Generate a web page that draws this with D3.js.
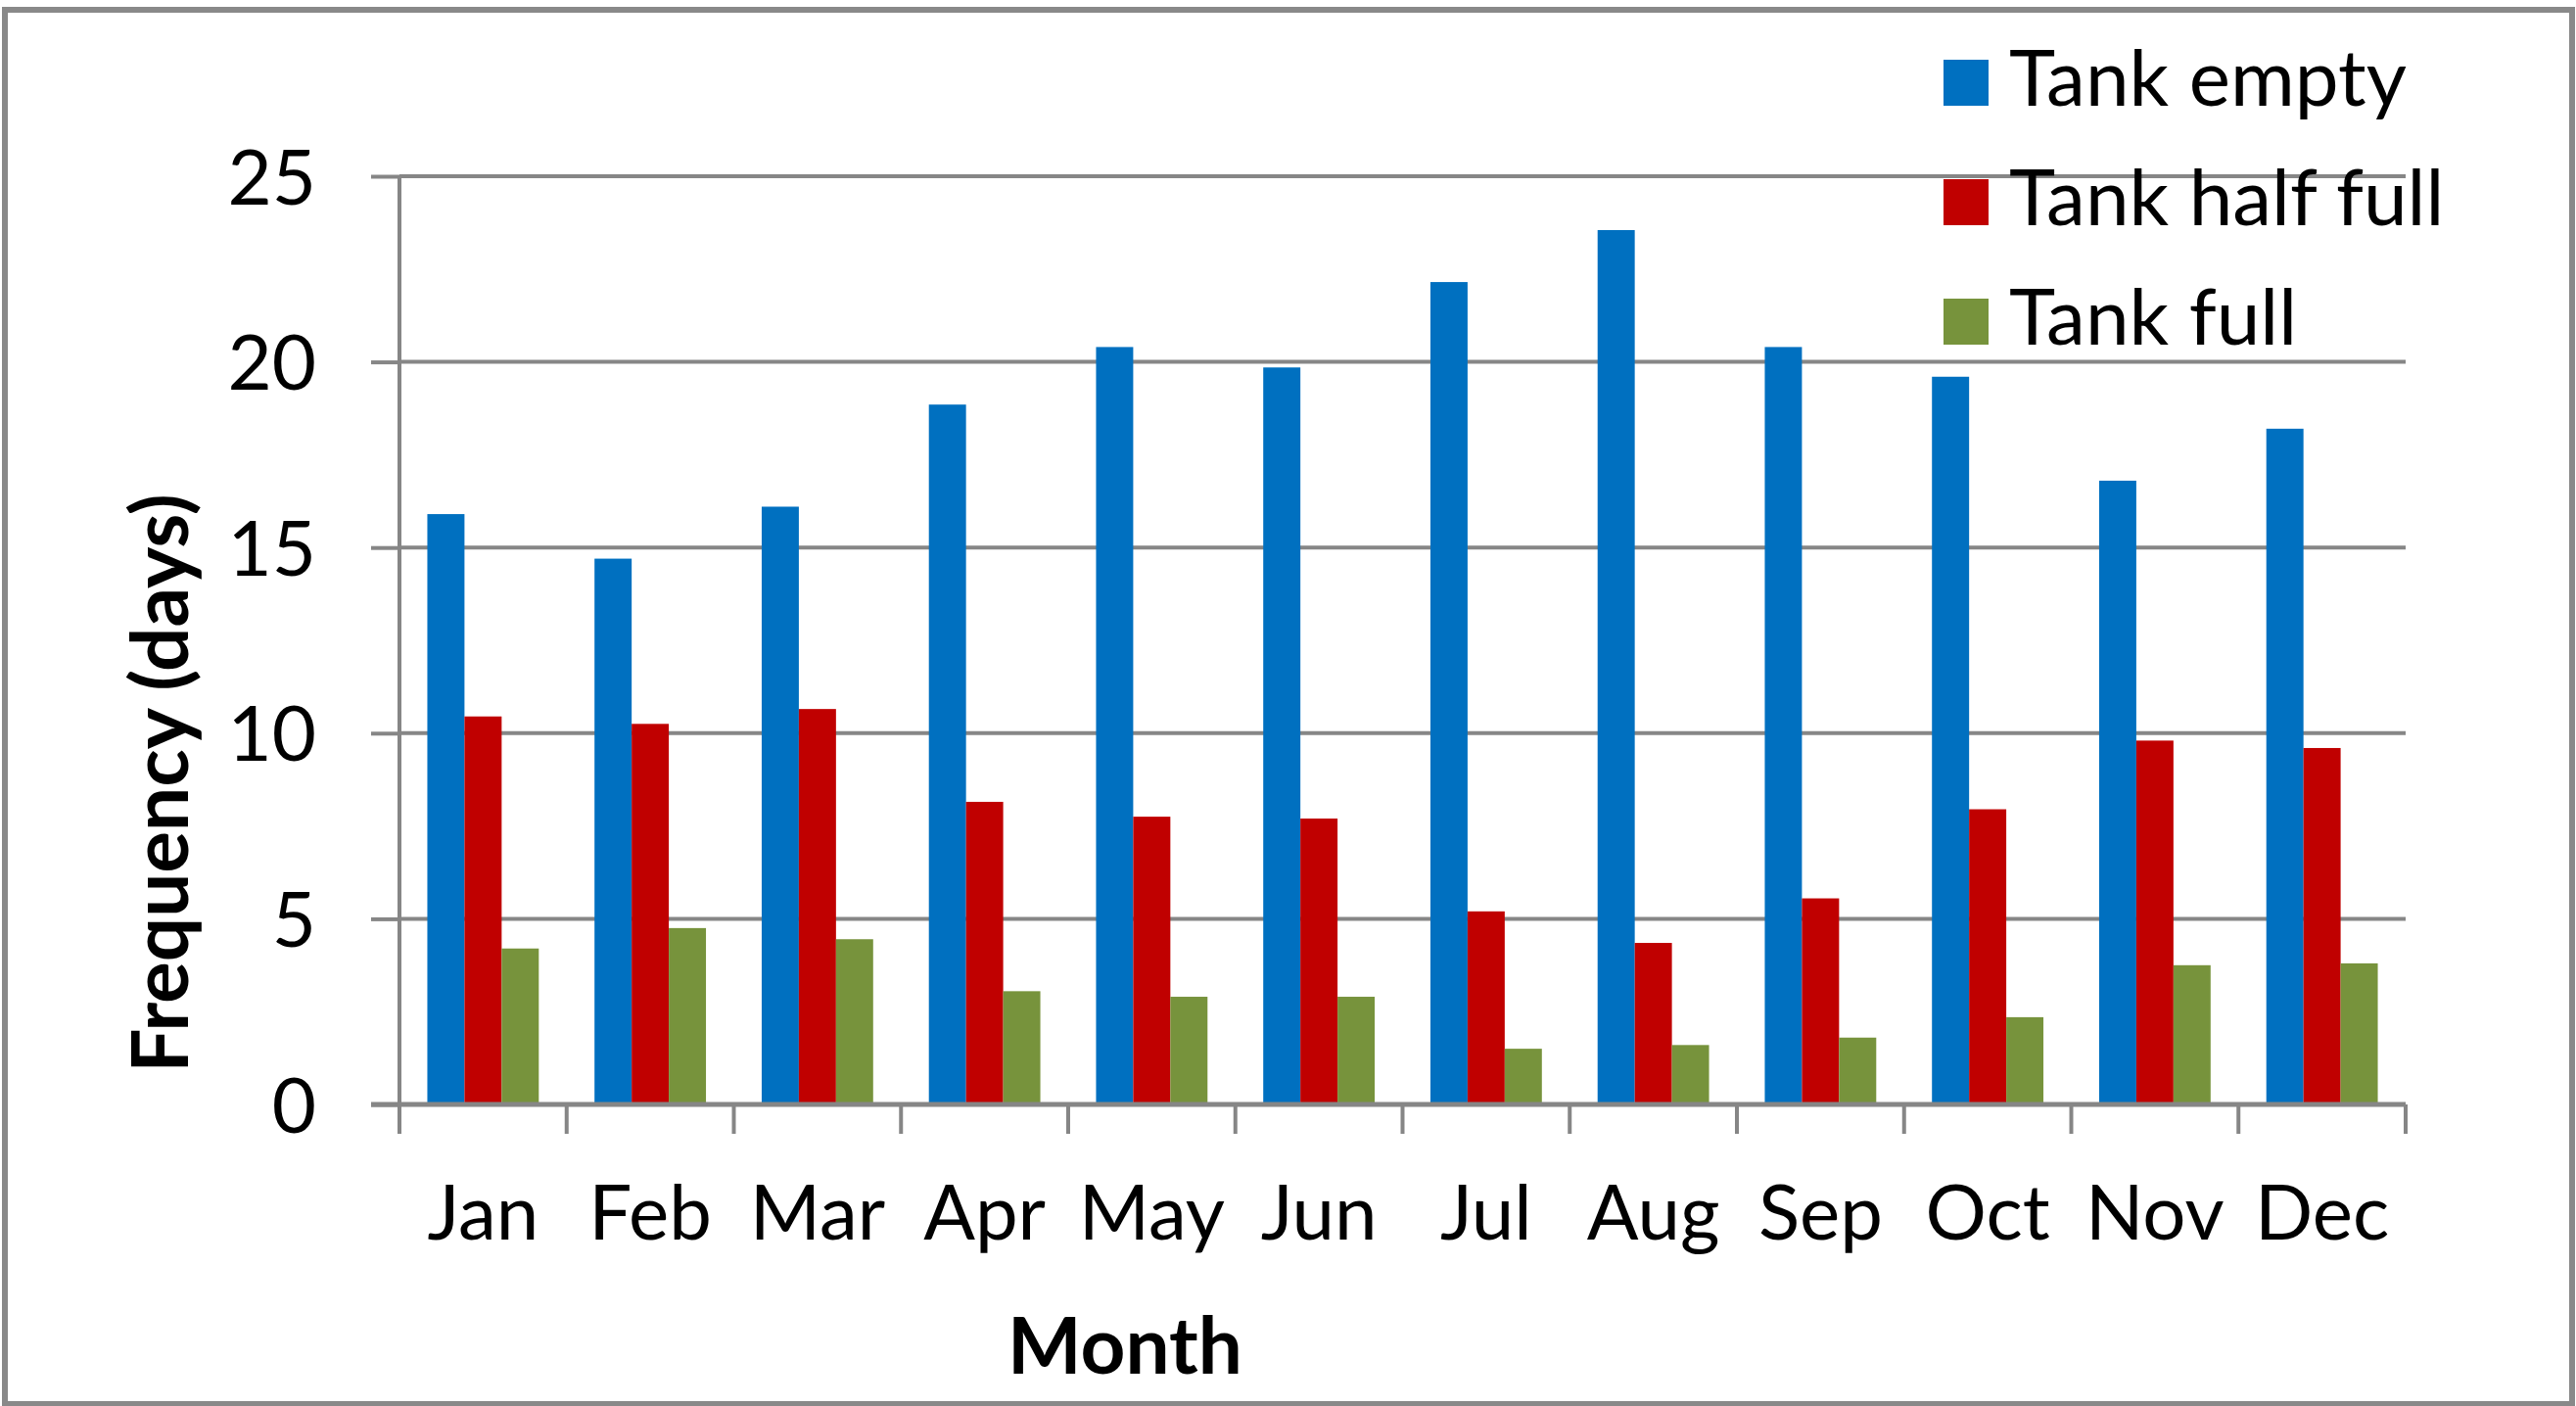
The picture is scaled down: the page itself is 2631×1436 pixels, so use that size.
<!DOCTYPE html>
<html>
<head>
<meta charset="utf-8">
<script src="https://cdn.jsdelivr.net/npm/d3@7"></script>
<style>
  html, body { margin: 0; padding: 0; background: #ffffff; }
  svg { display: block; }
  text { font-family: Lato, "Open Sans", sans-serif; fill: #000; }
</style>
</head>
<body>
<svg id="chart" width="2631" height="1436"></svg>
<script>
const months = ["Jan","Feb","Mar","Apr","May","Jun","Jul","Aug","Sep","Oct","Nov","Dec"];
const seriesNames = ["Tank empty","Tank half full","Tank full"];
const seriesColors = ["#0070C0","#C00000","#77933C"];
const tankEmpty    = [15.9, 14.7, 16.1, 18.85, 20.4, 19.85, 22.15, 23.55, 20.4, 19.6, 16.8, 18.2];
const tankHalfFull = [10.45, 10.25, 10.65, 8.15, 7.75, 7.7, 5.2, 4.35, 5.55, 7.95, 9.8, 9.6];
const tankFull     = [4.2, 4.75, 4.45, 3.05, 2.9, 2.9, 1.5, 1.6, 1.8, 2.35, 3.75, 3.8];
const yTicks = [0, 5, 10, 15, 20, 25];
const yTitle = "Frequency (days)";
const xTitle = "Month";

const seriesValues = [tankEmpty, tankHalfFull, tankFull];

const svg = d3.select("#chart");
const plotL = 408, plotR = 2457, plotT = 180, plotB = 1128;
const gridColor = "#868686";

// outer frame
svg.append("rect")
  .attr("x", 5).attr("y", 10).attr("width", 2622).attr("height", 1424)
  .attr("fill", "#fff").attr("stroke", "#898989").attr("stroke-width", 6);

const x0 = d3.scaleBand().domain(months).range([plotL, plotR]).paddingInner(0).paddingOuter(0);
const bw = x0.bandwidth();
const x1 = d3.scaleBand().domain(seriesNames).range([0, bw]).paddingInner(0).paddingOuter(0.75);
const y = d3.scaleLinear().domain([0, 25]).range([plotB, plotT]);

// y ticks + labels
const yAxis = d3.axisLeft(y).tickValues(yTicks).tickSize(29).tickPadding(56).tickFormat(d3.format("d"));
const gy = svg.append("g").attr("transform", `translate(${plotL},0)`).call(yAxis);
gy.select(".domain").remove();
gy.selectAll(".tick line").attr("stroke", gridColor).attr("stroke-width", 4);
gy.selectAll(".tick text").attr("font-size", 78).attr("dy", "0.36em").attr("font-family", "Lato").attr("fill", "#000");

// gridlines
svg.append("g").selectAll("line").data(yTicks).join("line")
  .attr("x1", plotL).attr("x2", plotR)
  .attr("y1", d => y(d)).attr("y2", d => y(d))
  .attr("stroke", gridColor).attr("stroke-width", 4);

// bars
const data = months.map((m, i) => ({ month: m, vals: seriesNames.map((s, k) => ({ s, k, v: seriesValues[k][i] })) }));
const groups = svg.append("g").selectAll("g").data(data).join("g")
  .attr("transform", d => `translate(${x0(d.month)},0)`);
groups.selectAll("rect").data(d => d.vals).join("rect")
  .attr("x", d => x1(d.s))
  .attr("width", x1.bandwidth())
  .attr("y", d => y(d.v))
  .attr("height", d => y(0) - y(d.v))
  .attr("fill", d => seriesColors[d.k]);

// y axis line
svg.append("line").attr("x1", plotL).attr("x2", plotL).attr("y1", plotT).attr("y2", plotB + 2)
  .attr("stroke", gridColor).attr("stroke-width", 4);

// x axis
const xTickPos = months.map(m => x0(m)).concat([plotR]);
const xAxisG = svg.append("g");
xAxisG.append("line").attr("x1", plotL - 29).attr("x2", plotR).attr("y1", plotB).attr("y2", plotB)
  .attr("stroke", gridColor).attr("stroke-width", 5);
xAxisG.selectAll("line.xt").data(xTickPos).join("line").attr("class", "xt")
  .attr("x1", d => d).attr("x2", d => d).attr("y1", plotB).attr("y2", plotB + 30)
  .attr("stroke", gridColor).attr("stroke-width", 4);
xAxisG.selectAll("text").data(months).join("text")
  .attr("x", d => x0(d) + bw / 2).attr("y", 1266)
  .attr("text-anchor", "middle").attr("font-size", 78).text(d => d);

// axis titles
svg.append("text").attr("x", 1149).attr("y", 1403).attr("text-anchor", "middle")
  .attr("font-size", 80).attr("font-weight", "bold").text(xTitle);
svg.append("text").attr("transform", "translate(192,800) rotate(-90)").attr("text-anchor", "middle")
  .attr("font-size", 80).attr("font-weight", "bold").text(yTitle);

// legend
const leg = svg.append("g").selectAll("g").data(seriesNames).join("g")
  .attr("transform", (d, i) => `translate(1985,${108 + i * 122})`);
leg.append("rect").attr("x", 0).attr("y", -47).attr("width", 46).attr("height", 47)
  .attr("fill", (d, i) => seriesColors[i]);
leg.append("text").attr("x", 67).attr("y", 0).attr("font-size", 80).text(d => d);
</script>
</body>
</html>
